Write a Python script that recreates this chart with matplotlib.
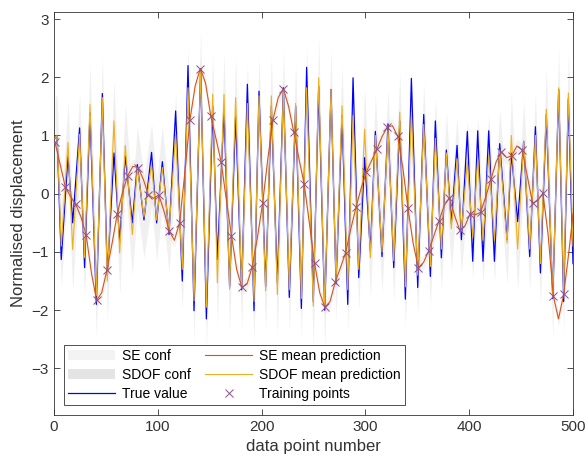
import numpy as np
import matplotlib
matplotlib.use('Agg')
import matplotlib.pyplot as plt

plt.rcParams['font.family'] = ['Liberation Sans', 'DejaVu Sans']

# true signal, read at its peaks and troughs
true_x = [1, 3, 7, 13.5, 18, 24.7, 29.5, 34.7, 40.8, 46.6, 51.4, 57.8, 63.3, 68.7, 75.5, 80.3,
          86.7, 94, 98.9, 104.4, 110.8, 117.2, 123.6, 129.1, 134.9, 141.3, 146.8, 152.9, 157.4,
          163.8, 169.2, 175, 180.8, 186.3, 192.7, 197.5, 203.9, 209.4, 215.2, 221, 226.7, 232.8,
          238.3, 243.4, 249.8, 255, 260.8, 266.9, 271.7, 277.5, 283, 288.1, 293.6, 299.3, 304.8,
          309.6, 316, 321.8, 327.3, 333.1, 338.5, 344.3, 350.4, 356.2, 362.6, 367.4, 373.2, 378,
          382.8, 388.3, 392.5, 398.2, 403.4, 408.2, 413.3, 418.8, 424.3, 429.4, 436.5, 440.6,
          446.7, 452.5, 458.3, 463.8, 468.6, 474.3, 480.5, 486.2, 491, 495.5, 500]
true_y = [0.95, 1.0, -1.13, 0.65, -0.5, 1.13, -1.27, 1.39, -1.9, 1.72, -1.4, 0.7, -0.82, 0.65, -0.5, 0.5,
          -0.45, 0.71, -0.5, 0.55, -0.7, 1.42, -1.5, 2.2, -2.01, 2.15, -2.15, 1.5, -1.13,
          1.45, -1.6, 1.34, -1.65, 1.88, -2.01, 1.76, -1.6, 1.5, -1.53, 1.82, -1.78, 1.5,
          -1.97, 2.17, -1.85, 1.85, -2.0, 1.79, -1.55, 1.34, -1.9, 1.99, -1.44, 0.62, -0.99,
          1.07, -1.08, 1.2, -1.27, 1.25, -1.81, 1.98, -1.61, 1.36, -1.42, 1.25, -1.1, 0.75,
          -0.51, 0.83, -0.79, 1.07, -1.16, 1.08, -1.16, 1.08, -1.16, 0.86, -0.79, 0.7,
          -0.48, 0.9, -1.08, 1.15, -1.36, 1.36, -1.8, 1.79, -1.85, 1.63, -1.2]

# SDOF mean prediction at the same extremes
sdof_y = [0.95, 1.0, -0.9, 0.88, -0.96, 1.02, -1.1, 1.53, -1.75, 1.65, -1.5, 1.25, -1.02, 0.83, -0.7, 0.45,
          -0.4, 0.5, -0.45, 0.45, -0.65, 1.02, -1.3, 1.82, -1.84, 2.1, -1.95, 1.71, -1.53,
          1.71, -1.64, 1.65, -1.62, 1.55, -1.85, 1.68, -1.67, 1.68, -1.73, 1.78, -1.65, 1.55,
          -1.8, 1.82, -1.93, 1.99, -1.95, 1.79, -1.5, 1.51, -1.65, 1.34, -1.3, 1.11, -1.1,
          1.0, -1.0, 1.1, -1.15, 1.4, -1.6, 1.39, -1.4, 1.19, -1.25, 0.95, -0.95, 0.7,
          -0.6, 0.6, -0.65, 0.55, -0.75, 0.6, -0.8, 0.65, -0.8, 0.75, -0.85, 1.0,
          -0.95, 0.9, -0.95, 1.0, -1.2, 1.45, -1.78, 1.82, -1.7, 1.73, -0.9]
sdof_halfwidth = 0.7

# SE mean prediction every 5 points
se_x = list(range(1, 500, 5)) + [500]
se_y = [0.88, 0.5, 0.11, -0.05, -0.18, -0.4, -0.71, -1.35, -1.83, -1.7,
        -1.31, -0.85, -0.34, 0.02, 0.31, 0.47, 0.45, 0.25, -0.02, -0.08,
        -0.02, -0.3, -0.64, -0.8, -0.5, 0.35, 1.27, 1.85, 2.15, 1.9,
        1.34, 0.95, 0.55, -0.1, -0.72, -1.3, -1.61, -1.55, -1.25, -0.75,
        -0.16, 0.6, 1.27, 1.65, 1.8, 1.5, 1.06, 0.6, 0.17, -0.5,
        -1.19, -1.7, -1.95, -1.85, -1.51, -1.27, -1.01, -0.6, -0.23, 0.1,
        0.38, 0.57, 0.76, 0.98, 1.14, 1.17, 0.99, 0.45, -0.25, -0.85,
        -1.27, -1.18, -0.98, -0.72, -0.46, -0.2, -0.07, -0.38, -0.63, -0.55,
        -0.34, -0.36, -0.32, -0.05, 0.25, 0.55, 0.72, 0.62, 0.65, 0.82,
        0.75, 0.3, -0.16, -0.12, 0.01, -0.7, -1.75, -2.15, -1.73, -1.0,
        -0.35]
se_halfwidth = 0.12

# training points every 10 samples
train_x = list(range(1, 500, 10))
train_y = [0.88, 0.11, -0.18, -0.71, -1.83, -1.31, -0.34, 0.31, 0.45, -0.02,
           -0.02, -0.64, -0.5, 1.27, 2.15, 1.34, 0.55, -0.72, -1.61, -1.25,
           -0.16, 1.27, 1.8, 1.06, 0.17, -1.19, -1.95, -1.51, -1.01, -0.23,
           0.38, 0.76, 1.14, 0.99, -0.25, -1.27, -0.98, -0.46, -0.07, -0.63,
           -0.34, -0.32, 0.25, 0.72, 0.65, 0.75, -0.16, 0.01, -1.75, -1.73]

fig = plt.figure(figsize=(5.88, 4.66), dpi=100)
ax = fig.add_axes([0.0918, 0.1094, 0.8827, 0.8648])

se_arr = np.array(se_y)
sdof_arr = np.array(sdof_y)
ax.fill_between(se_x, se_arr - se_halfwidth, se_arr + se_halfwidth,
                color='#f3f3f3', lw=0, label='SE conf', zorder=1)
ax.fill_between(true_x, sdof_arr - sdof_halfwidth, sdof_arr + sdof_halfwidth,
                color='#e4e4e4', alpha=0.55, lw=0, label='SDOF conf', zorder=1)
ax.plot(true_x, true_y, color='#0000ff', lw=0.9, label='True value', zorder=2)
ax.plot(se_x, se_y, color='#D95319', lw=0.8, label='SE mean prediction', zorder=4)
ax.plot(true_x, sdof_y, color='#EDB120', lw=0.8, label='SDOF mean prediction', zorder=3)
ax.plot(train_x, train_y, 'x', color='#8E4F90', ms=6, mew=0.7, label='Training points', zorder=5)

ax.set_xlim(0, 500)
ax.set_ylim(-3.8, 3.12)
ax.set_xticks([0, 100, 200, 300, 400, 500])
ax.set_yticks([-3, -2, -1, 0, 1, 2, 3])
ax.tick_params(direction='in', top=True, right=True, labelsize=11, colors='#333333',
               length=4, width=0.6)
for s in ax.spines.values():
    s.set_color('#333333')
    s.set_linewidth(0.6)
ax.set_xlabel('data point number', fontsize=12, color='#333333')
ax.set_ylabel('Normalised displacement', fontsize=12, color='#333333')

leg = ax.legend(loc='lower left', bbox_to_anchor=(0.019, 0.025), borderaxespad=0,
                ncol=2, fontsize=10, fancybox=False, framealpha=1, edgecolor='#333333',
                handlelength=3.4, columnspacing=1.0, labelspacing=0.35, handletextpad=0.5,
                borderpad=0.3)
leg.get_frame().set_linewidth(0.6)
leg.legend_handles[1].set_alpha(1)

fig.savefig('out.png', dpi=100)
